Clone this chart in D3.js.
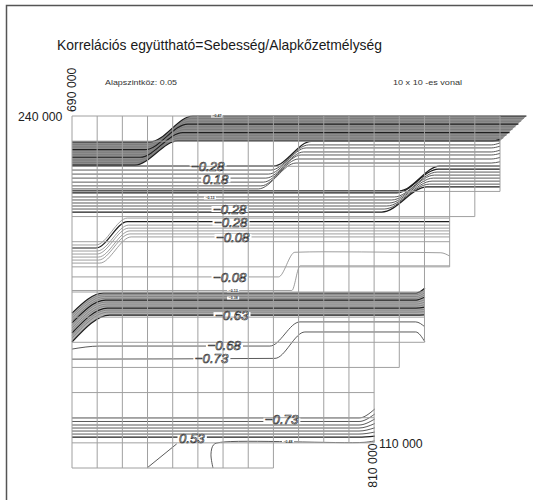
<!DOCTYPE html>
<html>
<head>
<meta charset="utf-8">
<script src="https://cdn.jsdelivr.net/npm/d3@7"></script>
<style>
  body { margin: 0; background: #fff; }
  svg { display: block; }
  text { font-family: "Liberation Sans", Arial, sans-serif; }
</style>
</head>
<body>
<svg id="chart" width="533" height="500"></svg>
<script>
// map grid, km (EOV): 10 x 10 km cells, staircase right edge per row
const gridX = [690, 700, 710, 720, 730, 740, 750, 760, 770, 780, 790, 800, 810, 820, 830, 840, 850, 860];
const gridY = [240, 230, 220, 210, 200, 190, 180, 170, 160, 150, 140, 130, 120, 110, 100];
const rowEnds = [860, 860, 860, 850, 840, 840, 830, 830, 830, 820, 810, 810, 810, 770];

// top dense band (steps up around 716-738)
const bandA_yl = [229.7, 228.7, 227.7, 226.6, 225.6, 224.6, 223.6, 222.5, 221.5, 220.5];
const bandA_yr = [240.0, 239.0, 237.9, 236.8, 235.7, 234.6, 233.4, 232.3, 231.2, 230.1];
const bandA_x0 = [721, 720.5, 719.8, 719, 718.4, 717.8, 717, 716.4, 715.7, 715];
const bandA_x1 = [738, 737.4, 736.8, 736, 735.4, 734.8, 734, 733.4, 732.7, 732];
const bandA_xe = [870.5, 869.5, 868.4, 867.3, 866.2, 865, 863.8, 862.6, 861.3, 860];

// lines stepping up around 765-785
const groupB_yl = [220.1, 218.5, 216.9, 215.3, 213.7, 212.2, 211.0];
const groupB_yr = [229.9, 228.5, 227.3, 225.7, 224.5, 222.9, 221.3];
const groupB_x0 = [770, 769, 768, 767, 766, 765, 764];
const groupB_x1 = [785, 784, 783, 782, 781, 780, 779];
const groupB_curl = [0.8, 0.8, 0.7, 0.7, 0.6, 0.6, 0.5];

// lines stepping up around 813-836
const groupC_yl = [210.2, 209.4, 207.8, 206.6, 205.4, 204.2, 203.0, 201.8];
const groupC_yr = [220.1, 218.9, 217.7, 216.5, 215.3, 214.1, 212.9, 211.8];
const groupC_x0 = [820, 819, 818, 817, 816, 815, 814, 813];
const groupC_x1 = [836, 835.5, 835, 834, 833.5, 833, 832, 831];

// lines stepping up near the west edge
const groupD_yl = [188.7, 187.5, 186.3, 185.1, 183.9, 182.7, 181.5];
const groupD_yr = [199.4, 198.0, 196.6, 195.4, 194.3, 193.1, 191.9];
const groupD_x0 = [699.5, 699.5, 700, 700, 700.5, 700.5, 701];
const groupD_x1 = [712, 712, 712.5, 712.5, 713, 713, 713.5];

// single lines
const line008 = [[690, 176.0], [772, 176.0], [778.5, 185.8], [790, 186.0], [820, 185.8], [836.5, 185.6], [840, 184.3]];
const line013 = [[690, 170.6], [777.3, 170.6], [780.6, 180.4], [840, 180.4]];
const line068 = [[690, 147.3], [701, 148.5], [768.6, 148.5], [780.5, 158.1], [826.5, 158.1], [830.2, 156.1]];
const line073 = [[690, 143.3], [770.6, 143.6], [782.5, 154.1], [826.5, 154.1], [830.2, 150.1]];

// middle dense band (already rising at the west edge)
const bandE_yl = [161.6, 160.6, 159.6, 158.6, 157.7, 156.7, 155.7, 154.7, 153.7, 152.7, 151.7, 150.1];
const bandE_yr = [169.6, 168.9, 168.2, 167.5, 166.8, 166.0, 165.2, 164.4, 163.6, 162.8, 162.0, 160.8];
const bandE_x1 = [702.5, 702.7, 702.9, 703.1, 703.3, 703.5, 703.7, 703.9, 704.1, 704.3, 704.5, 705];
const bandE_curl = [2.0, 1.8, 1.6, 1.4, 1.2, 1.0, 0.8, 0.6, 0.4, 0.3, 0.2, 0.1];

// southern lines
const groupF_y = [119.9, 118.5, 117.1, 115.9, 114.7, 113.5, 112.3];
const groupF_curl = [3.6, 3.0, 2.4, 1.8, 1.3, 0.8, 0.4];
const lineDiag = [[719.8, 100], [731.6, 109.6]];
const lineHook = [[746, 100], [745.2, 105.5], [746.2, 109.2], [749, 110.2], [806, 110.2], [810.3, 110.8]];

// contour labels
const labelText = ["−0.28", "0.18", "−0.28", "−0.28", "−0.08", "−0.08", "−0.63", "−0.68", "−0.73", "−0.73", "0.53"];
const labelX = [737.3, 741.9, 746.0, 746.4, 747.2, 746.0, 746.8, 743.8, 738.8, 766.6, 732.5];
const labelY = [220.2, 214.8, 203.0, 197.6, 191.9, 176.0, 160.8, 148.8, 143.6, 119.5, 111.9];
const tinyText = ["−0.47", "−0.13", "−0.13", "−0.38", "−0.48"];
const tinyX = [747.6, 744.8, 754, 754, 775.8];
const tinyY = [240, 207.4, 170.4, 167.6, 110.3];

const svg = d3.select("#chart");

const x = d3.scaleLinear().domain([690, 860]).range([72, 500]);
const y = d3.scaleLinear().domain([240, 100]).range([116, 468]);

const line = d3.line().x(d => x(d[0])).y(d => y(d[1])).curve(d3.curveMonotoneX);
const lineSmooth = d3.line().x(d => x(d[0])).y(d => y(d[1])).curve(d3.curveCatmullRom);

function stepLines(yl, yr, x0, x1, xe, curl) {
    return yl.map((v, i) => {
        const pts = [[690, v]];
        if (x0) pts.push([x0[i], v]);
        pts.push([x1[i], yr[i]]);
        const end = Array.isArray(xe) ? xe[i] : xe;
        if (curl) {
            pts.push([end - 3.5, yr[i]], [end, yr[i] + curl[i]]);
        } else {
            pts.push([end, yr[i]]);
        }
        return pts;
    });
}

const bandA = stepLines(bandA_yl, bandA_yr, bandA_x0, bandA_x1, bandA_xe);
const groupB = stepLines(groupB_yl, groupB_yr, groupB_x0, groupB_x1, 860, groupB_curl);
const groupC = stepLines(groupC_yl, groupC_yr, groupC_x0, groupC_x1, 860);
const groupD = stepLines(groupD_yl, groupD_yr, groupD_x0, groupD_x1, 840);
const bandE = stepLines(bandE_yl, bandE_yr, null, bandE_x1, 830.2, bandE_curl);
const groupF = groupF_y.map((v, i) => [[690, v], [804, v], [810.3, v + groupF_curl[i]]]);

// frame
svg.append("rect")
    .attr("x", 6.5).attr("y", 5.5)
    .attr("width", 540).attr("height", 510)
    .attr("fill", "none").attr("stroke", "#555").attr("stroke-width", 1.5);

const contours = svg.append("g").attr("fill", "none");

// band fills
function bandFill(lines, color) {
    const top = line(lines[0]);
    const bottom = line(lines[lines.length - 1].slice().reverse());
    contours.append("path")
        .attr("d", top + "L" + bottom.slice(1) + "Z")
        .attr("fill", color)
        .attr("stroke", "none");
}
bandFill(bandA, "#8e8e8e");
bandFill(bandE, "#b0b0b0");

function drawLines(lines, heavy, light) {
    contours.append("g")
        .selectAll("path")
        .data(lines)
        .join("path")
        .attr("d", line)
        .attr("stroke", (d, i) => heavy.includes(i) ? "#1e1e1e" : (light ? "#747474" : "#3c3c3c"))
        .attr("stroke-width", (d, i) => heavy.includes(i) ? 1.2 : (light ? 0.7 : 0.85));
}
drawLines(bandA, [0, 3, 6, 9], true);
drawLines(groupB, [0], false);
drawLines(groupC, [0, 1, 7], false);
drawLines(groupD, [1], true);
drawLines([line008, line013], [], true);
drawLines(bandE, [0, 4, 8, 11], true);
drawLines([line068, line073], [], false);
drawLines(groupF, [6], false);

contours.append("path").attr("d", lineSmooth(lineDiag)).attr("stroke", "#3c3c3c").attr("stroke-width", 0.85);
contours.append("path").attr("d", lineSmooth(lineHook)).attr("stroke", "#3c3c3c").attr("stroke-width", 0.85);

// label backgrounds (break the contour lines)
const bgLayer = svg.append("g");

// grid (drawn over the contours)
const grid = svg.append("g").attr("stroke", "#a0a0a0").attr("stroke-width", 1).attr("fill", "none");
gridY.forEach((gy, r) => {
    const ext = Math.max(r > 0 ? rowEnds[r - 1] : 0, r < rowEnds.length ? rowEnds[r] : 0);
    grid.append("line")
        .attr("x1", x(690)).attr("x2", x(ext))
        .attr("y1", y(gy)).attr("y2", y(gy));
});
gridX.forEach(gx => {
    const rows = rowEnds.filter(e => e >= gx).length;
    grid.append("line")
        .attr("x1", x(gx)).attr("x2", x(gx))
        .attr("y1", y(240)).attr("y2", y(gridY[rows]));
});

// contour labels
const txtLayer = svg.append("g");
function addLabel(text, lx, ly, size, tiny) {
    const t = txtLayer.append("text")
        .attr("x", x(lx)).attr("y", y(ly))
        .attr("dy", "0.36em")
        .style("font-size", size + "px")
        .style("font-style", tiny ? "normal" : "italic")
        .style("font-weight", tiny ? "bold" : "normal")
        .attr("fill", tiny ? "#333" : "#fff")
        .attr("stroke", tiny ? "none" : "#262626")
        .attr("stroke-width", 0.65)
        .attr("text-anchor", tiny ? "middle" : "start")
        .text(text);
    const b = t.node().getBBox();
    bgLayer.append("rect")
        .attr("x", b.x - 1.5).attr("y", y(ly) - (tiny ? 1.5 : 3))
        .attr("width", b.width + 3).attr("height", tiny ? 3 : 6)
        .attr("fill", "#fff");
}
labelText.forEach((t, i) => addLabel(t, labelX[i], labelY[i], 13.2, false));
tinyText.forEach((t, i) => addLabel(t, tinyX[i], tinyY[i], 3.6, true));

// titles
svg.append("text")
    .attr("x", 57).attr("y", 50)
    .style("font-size", "15px")
    .attr("textLength", 325).attr("lengthAdjust", "spacingAndGlyphs")
    .attr("fill", "#1a1a1a")
    .text("Korrelációs együttható=Sebesség/Alapkőzetmélység");

svg.append("text")
    .attr("x", 105).attr("y", 84.5)
    .style("font-size", "7.8px")
    .attr("textLength", 72).attr("lengthAdjust", "spacingAndGlyphs")
    .attr("fill", "#333")
    .text("Alapszintköz: 0.05");

svg.append("text")
    .attr("x", 393).attr("y", 84.5)
    .style("font-size", "7.8px")
    .attr("textLength", 69).attr("lengthAdjust", "spacingAndGlyphs")
    .attr("fill", "#333")
    .text("10 x 10 -es vonal");

// corner coordinates
const cornerStyle = g => g.style("font-size", "12.3px").attr("fill", "#222");
svg.append("text")
    .attr("x", 18).attr("y", y(240) + 5)
    .call(cornerStyle)
    .text("240 000");
svg.append("text")
    .attr("x", x(810) + 5).attr("y", y(110) + 5)
    .call(cornerStyle)
    .text("110 000");
svg.append("text")
    .attr("transform", `translate(${x(690) + 3.5},${y(240) - 4}) rotate(-90)`)
    .call(cornerStyle)
    .text("690 000");
svg.append("text")
    .attr("transform", `translate(${x(810) + 3},${y(110) + 45}) rotate(-90)`)
    .call(cornerStyle)
    .text("810 000");
</script>
</body>
</html>
